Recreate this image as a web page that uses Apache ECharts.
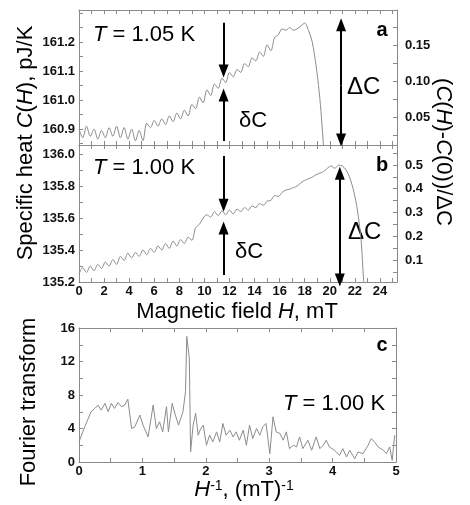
<!DOCTYPE html>
<html><head><meta charset="utf-8">
<script src="https://cdn.jsdelivr.net/npm/echarts@6/dist/echarts.min.js"></script>
<style>html,body{margin:0;padding:0;background:#fff}#c{width:470px;height:505px}</style>
</head><body><div id="c"></div>
<script>
// Panel a: T = 1.05 K
const fieldA = [0,0.3,0.6,0.9,1.2,1.5,1.8,2.1,2.4,2.7,3.0,3.3,3.6,3.9,4.2,4.5,4.8,5.1,5.4,5.7,6.0,6.3,6.6,6.9,7.2,7.5,7.8,8.1,8.4,8.7,9.0,9.3,9.6,9.9,10.2,10.5,10.8,11.1,11.4,11.7,12.0,12.3,12.6,12.9,13.2,13.5,13.8,14.1,14.4,14.7,15.0,15.3,15.6,15.9,16.2,16.5,16.8,17.1,17.4,17.7,18.0,18.3,18.6,18.9,19.1,19.3,19.5,19.6];
const heatA = [160.900,160.870,160.910,160.875,160.900,160.865,160.895,160.870,160.905,160.875,160.910,160.870,160.905,160.865,160.900,160.860,160.895,160.860,160.920,160.905,160.930,160.910,160.935,160.915,160.945,160.925,160.955,160.935,160.965,160.945,160.985,160.970,161.010,160.990,161.035,161.015,161.055,161.040,161.075,161.060,161.095,161.080,161.105,161.095,161.125,161.115,161.145,161.135,161.165,161.150,161.190,161.170,161.215,161.225,161.245,161.240,161.250,161.240,161.245,161.255,161.265,161.240,161.200,161.120,161.050,160.960,160.840,160.780];
// Panel b: T = 1.00 K
const fieldB = [0,0.3,0.6,0.9,1.2,1.5,1.8,2.1,2.4,2.7,3.0,3.3,3.6,3.9,4.2,4.5,4.8,5.1,5.4,5.7,6.0,6.3,6.6,6.9,7.2,7.5,7.8,8.1,8.4,8.7,9.0,9.3,9.6,9.9,10.2,10.5,10.8,11.1,11.4,11.7,12.0,12.3,12.6,12.9,13.2,13.5,13.8,14.1,14.4,14.7,15.0,15.3,15.6,15.9,16.2,16.5,16.8,17.1,17.4,17.7,18.0,18.3,18.6,18.9,19.2,19.5,19.8,20.1,20.4,20.7,21.0,21.3,21.6,21.9,22.2,22.5,22.7,22.8];
const heatB = [135.250,135.290,135.260,135.300,135.270,135.310,135.285,135.325,135.300,135.340,135.310,135.360,135.335,135.380,135.350,135.385,135.360,135.400,135.370,135.410,135.385,135.425,135.400,135.440,135.410,135.455,135.425,135.465,135.440,135.480,135.460,135.540,135.560,135.600,135.620,135.605,135.640,135.615,135.645,135.620,135.650,135.625,135.655,135.640,135.665,135.650,135.675,135.665,135.690,135.680,135.705,135.710,135.740,135.735,135.760,135.775,135.780,135.790,135.800,135.820,135.835,135.845,135.855,135.870,135.880,135.890,135.910,135.925,135.910,135.930,135.925,135.900,135.850,135.770,135.650,135.460,135.210,135.150];
// Panel c: Fourier transform
const freqC = [0.00,0.09,0.19,0.25,0.30,0.35,0.41,0.46,0.51,0.56,0.615,0.67,0.72,0.77,0.83,0.88,0.96,1.01,1.09,1.17,1.22,1.27,1.32,1.38,1.41,1.47,1.52,1.57,1.64,1.68,1.70,1.74,1.76,1.80,1.84,1.88,1.92,1.96,2.01,2.06,2.11,2.17,2.22,2.27,2.32,2.38,2.43,2.48,2.53,2.59,2.64,2.69,2.74,2.80,2.85,2.90,2.95,3.01,3.06,3.11,3.17,3.22,3.27,3.32,3.38,3.43,3.48,3.53,3.61,3.67,3.74,3.80,3.85,3.90,3.95,4.03,4.11,4.16,4.22,4.27,4.35,4.40,4.48,4.56,4.61,4.66,4.72,4.80,4.85,4.90,4.94,4.98];
const ftC = [2.4,4.2,6.0,6.4,6.8,6.2,7.0,6.0,7.0,6.4,7.1,6.6,6.8,7.5,4.0,4.2,5.6,4.4,3.0,6.8,4.0,4.8,3.6,6.6,3.6,7.0,5.6,4.4,6.0,8.4,15.0,12.4,1.2,4.4,5.8,3.2,4.0,4.4,2.0,3.2,2.4,3.6,2.4,4.6,3.2,3.8,3.0,3.6,2.6,3.8,2.0,4.4,2.8,4.0,3.2,4.2,4.6,1.0,5.4,3.6,3.4,2.6,3.6,1.6,2.0,1.8,3.0,1.6,2.6,1.4,3.0,1.6,2.0,2.6,1.8,1.4,0.8,1.6,0.6,1.4,0.4,1.2,1.0,2.0,2.8,2.4,1.8,1.4,1.0,1.8,0.2,3.2];

// Tick positions and tick labels
const fieldTicks = [0,1,2,3,4,5,6,7,8,9,10,11,12,13,14,15,16,17,18,19,20,21,22,23,24,25];
const fieldLabels = [0,2,4,6,8,10,12,14,16,18,20,22,24];
const heatATicks = [160.85,160.9,160.95,161.0,161.05,161.1,161.15,161.2,161.25,161.3];
const heatALabels = [160.9,161.0,161.1,161.2];
const ratioATicks = [0.025,0.05,0.075,0.1,0.125,0.15,0.175];
const ratioALabels = [0.05,0.10,0.15];
const heatBTicks = [135.2,135.3,135.4,135.5,135.6,135.7,135.8,135.9,136.0];
const heatBLabels = [135.2,135.4,135.6,135.8,136.0];
const ratioBTicks = [0.05,0.1,0.15,0.2,0.25,0.3,0.35,0.4,0.45,0.5,0.55];
const ratioBLabels = [0.1,0.2,0.3,0.4,0.5];
const invTicks = [0,0.5,1,1.5,2,2.5,3,3.5,4,4.5,5];
const invLabels = [0,1,2,3,4,5];
const ftTicks = [0,2,4,6,8,10,12,14,16];
const ftLabels = [0,4,8,12,16];

const FRAME = '#8a8a8a';
const CURVE = '#8c8c8c';
const FONT = "'Liberation Sans', Arial, Helvetica, sans-serif";

function ax(gridIndex, position, min, max, ticks, labels, dec, margin) {
  return {
    type: 'value', gridIndex, position, min, max, scale: true,
    axisLine: { show: true, onZero: false, lineStyle: { color: FRAME, width: 1 } },
    axisTick: { show: true, inside: true, length: 4, customValues: ticks, lineStyle: { color: FRAME, width: 1 } },
    axisLabel: labels ? {
      show: true, customValues: labels, margin: margin,
      formatter: v => Number(v).toFixed(dec),
      color: '#111', fontFamily: FONT, fontWeight: 'bold', fontSize: 13
    } : { show: false },
    splitLine: { show: false }
  };
}

const pairs = (xs, ys) => xs.map((x, i) => [x, ys[i]]);

const arrowLine = { color: '#000', width: 2, type: 'solid' };
function arrows(list) {
  return {
    silent: true, animation: false, symbol: ['none', 'triangle'], symbolSize: [10, 13],
    label: { show: false }, lineStyle: arrowLine, emphasis: { disabled: true },
    data: list
  };
}

const chart = echarts.init(document.getElementById('c'), null, { renderer: 'canvas' });

const txt = (x, y, text, opts) => ({
  type: 'text', x, y, rotation: opts.rot || 0, silent: true,
  style: Object.assign({
    text, fill: '#000', fontFamily: FONT, fontSize: opts.size || 22,
    fontWeight: opts.weight || 'normal',
    align: opts.align || 'center', verticalAlign: 'middle',
    textAlign: opts.align || 'center', textVerticalAlign: 'middle',
    rich: {
      i: { fontStyle: 'italic', fontFamily: FONT, fontSize: opts.size || 22 },
      s: { fontFamily: FONT, fontSize: 14, verticalAlign: 'top' }
    }
  }, opts.style || {})
});

chart.setOption({
  animation: false,
  backgroundColor: '#fff',
  grid: [
    { left: 79, top: 10, width: 318, height: 135 },
    { left: 79, top: 145, width: 318, height: 137 },
    { left: 79, top: 328, width: 317, height: 134 }
  ],
  xAxis: [
    ax(0, 'bottom', 0, 25.36, fieldTicks, null),
    ax(0, 'top', 0, 25.36, fieldTicks, null),
    ax(1, 'bottom', 0, 25.36, fieldTicks, fieldLabels, 0, 3),
    ax(1, 'top', 0, 25.36, fieldTicks, null),
    ax(2, 'bottom', 0, 5, invTicks, invLabels, 0, 3),
    ax(2, 'top', 0, 5, invTicks, null)
  ],
  yAxis: [
    ax(0, 'left', 160.845, 161.31, heatATicks, heatALabels, 1, 4),
    ax(0, 'right', 0.0111, 0.1986, ratioATicks, ratioALabels, 2, 8),
    ax(1, 'left', 135.2, 136.056, heatBTicks, heatBLabels, 1, 4),
    ax(1, 'right', 0.0074, 0.584, ratioBTicks, ratioBLabels, 1, 8),
    ax(2, 'left', 0, 16, ftTicks, ftLabels, 0, 4),
    ax(2, 'right', 0, 16, ftTicks, null)
  ],
  series: [
    {
      type: 'line', xAxisIndex: 0, yAxisIndex: 0, data: pairs(fieldA, heatA),
      showSymbol: false, symbol: 'none', clip: true, smooth: 0.3,
      lineStyle: { color: CURVE, width: 1 },
      markLine: arrows([
        [{ coord: [11.53, 161.266] }, { coord: [11.53, 161.10] }],
        [{ coord: [11.53, 160.859] }, { coord: [11.53, 161.017] }],
        [{ coord: [20.9, 161.05] }, { coord: [20.9, 161.259] }],
        [{ coord: [20.9, 161.05] }, { coord: [20.9, 160.862] }]
      ])
    },
    {
      type: 'line', xAxisIndex: 2, yAxisIndex: 2, data: pairs(fieldB, heatB),
      showSymbol: false, symbol: 'none', clip: true, smooth: 0.3,
      lineStyle: { color: CURVE, width: 1 },
      markLine: arrows([
        [{ coord: [11.53, 135.9875] }, { coord: [11.53, 135.68] }],
        [{ coord: [11.53, 135.244] }, { coord: [11.53, 135.5375] }],
        [{ coord: [20.8, 135.55] }, { coord: [20.8, 135.88] }],
        [{ coord: [20.8, 135.55] }, { coord: [20.8, 135.2125] }]
      ])
    },
    {
      type: 'line', xAxisIndex: 4, yAxisIndex: 4, data: pairs(freqC, ftC),
      showSymbol: false, symbol: 'none', clip: true,
      lineStyle: { color: CURVE, width: 1 }
    }
  ],
  graphic: [
    txt(26, 143, 'Specific heat {i|C}({i|H}), pJ/K', { rot: Math.PI / 2 }),
    txt(443, 152, '({i|C}({i|H})-{i|C}(0))/ΔC', { rot: -Math.PI / 2 }),
    txt(237, 312, 'Magnetic field {i|H}, mT', {}),
    txt(29, 402, 'Fourier transform', { rot: Math.PI / 2 }),
    txt(244, 490, '{i|H}{s|-1}, (mT){s|-1}', {}),
    txt(93, 35, '{i|T} = 1.05 K', { align: 'left' }),
    txt(93, 168, '{i|T} = 1.00 K', { align: 'left' }),
    txt(283, 404, '{i|T} = 1.00 K', { align: 'left' }),
    txt(382, 30, 'a', { size: 20, weight: 'bold' }),
    txt(382, 165, 'b', { size: 20, weight: 'bold' }),
    txt(382, 345, 'c', { size: 20, weight: 'bold' }),
    txt(239, 121, 'δC', { align: 'left' }),
    txt(235, 252, 'δC', { align: 'left' }),
    txt(347, 87, 'ΔC', { align: 'left', size: 24 }),
    txt(348, 232, 'ΔC', { align: 'left', size: 24 })
  ]
});
</script>
</body></html>
